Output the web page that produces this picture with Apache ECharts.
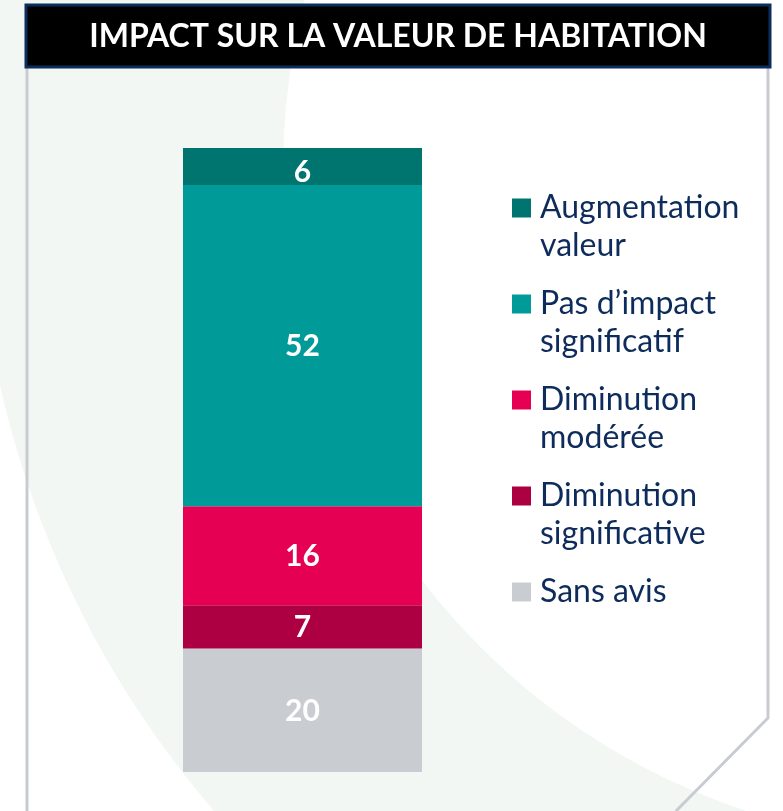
<!DOCTYPE html>
<html>
<head>
<meta charset="utf-8">
<script src="https://cdn.jsdelivr.net/npm/echarts@6/dist/echarts.min.js"></script>
<style>
  html, body { margin: 0; padding: 0; background: #fff; }
  #chart { width: 783px; height: 811px; }
</style>
</head>
<body>
<div id="chart"></div>
<script>
// stacked bottom -> top
const seriesNames = ['Sans avis', 'Diminution\nsignificative', 'Diminution\nmodérée', 'Pas d\u2019impact\nsignificatif', 'Augmentation\nvaleur'];
const seriesValues = [20, 7, 16, 52, 6];
const seriesColors = ['#c9ccd1', '#ac0043', '#e50053', '#009b98', '#007570'];
const legendOrder = ['Augmentation\nvaleur', 'Pas d\u2019impact\nsignificatif', 'Diminution\nmodérée', 'Diminution\nsignificative', 'Sans avis'];
const categories = ['Habitation'];
const titleText = 'IMPACT SUR LA VALEUR DE HABITATION';

const FONT = 'Lato';
const NAVY = '#0e2c5b';

const myChart = echarts.init(document.getElementById('chart'));

const series = seriesNames.map((name, i) => ({
  name,
  type: 'bar',
  stack: 'total',
  barWidth: '100%',
  data: [seriesValues[i]],
  itemStyle: { color: seriesColors[i] },
  label: {
    show: true,
    position: 'inside',
    // the top label sits a bit low in the original
    offset: i === seriesNames.length - 1 ? [0, 6] : [0, 1],
    color: '#fff',
    fontFamily: FONT,
    fontWeight: 'bold',
    fontSize: 30
  },
  emphasis: { disabled: true }
}));

const option = {
  animation: false,
  backgroundColor: '#fff',
  graphic: [
    // faint decorative arc
    {
      type: 'sector',
      z: -10,
      silent: true,
      shape: { cx: 958, cy: 170, r0: 675, r: 982, startAngle: 0, endAngle: Math.PI * 2 },
      style: { fill: '#f3f7f4' }
    },
    // frame
    {
      type: 'polyline',
      z: -5,
      silent: true,
      shape: { points: [[27, 68], [27, 811]] },
      style: { stroke: '#c8ccd1', lineWidth: 3, fill: null }
    },
    {
      type: 'polyline',
      z: -5,
      silent: true,
      shape: { points: [[768, 68], [768, 718], [676, 811]] },
      style: { stroke: '#c8ccd1', lineWidth: 3, fill: null }
    },
    // title bar
    {
      type: 'rect',
      z: 10,
      shape: { x: 26, y: 5, width: 744, height: 62 },
      style: { fill: '#000', stroke: '#0b2d5c', lineWidth: 3 }
    },
    {
      type: 'text',
      z: 11,
      x: 398,
      y: 37,
      style: {
        text: titleText,
        fill: '#fff',
        font: 'bold 32px Lato',
        align: 'center',
        verticalAlign: 'middle'
      }
    }
  ],
  legend: {
    data: legendOrder,
    // pad every entry to three lines so the icon sits beside the first text line
    formatter: name => (name.indexOf('\n') >= 0 ? ' \n' + name : ' \n' + name + '\n '),
    orient: 'vertical',
    left: 512,
    top: 151,
    padding: 0,
    itemGap: -18,
    itemWidth: 19,
    itemHeight: 19,
    icon: 'rect',
    selectedMode: false,
    textStyle: {
      color: NAVY,
      fontFamily: FONT,
      fontSize: 32,
      lineHeight: 38,
      padding: [0, 0, 0, 4]
    }
  },
  grid: { left: 183, width: 239, top: 148, bottom: 39 },
  xAxis: {
    type: 'category',
    data: categories,
    show: false
  },
  yAxis: {
    type: 'value',
    min: 0,
    max: 101,
    show: false
  },
  series
};

myChart.setOption(option);
</script>
</body>
</html>
